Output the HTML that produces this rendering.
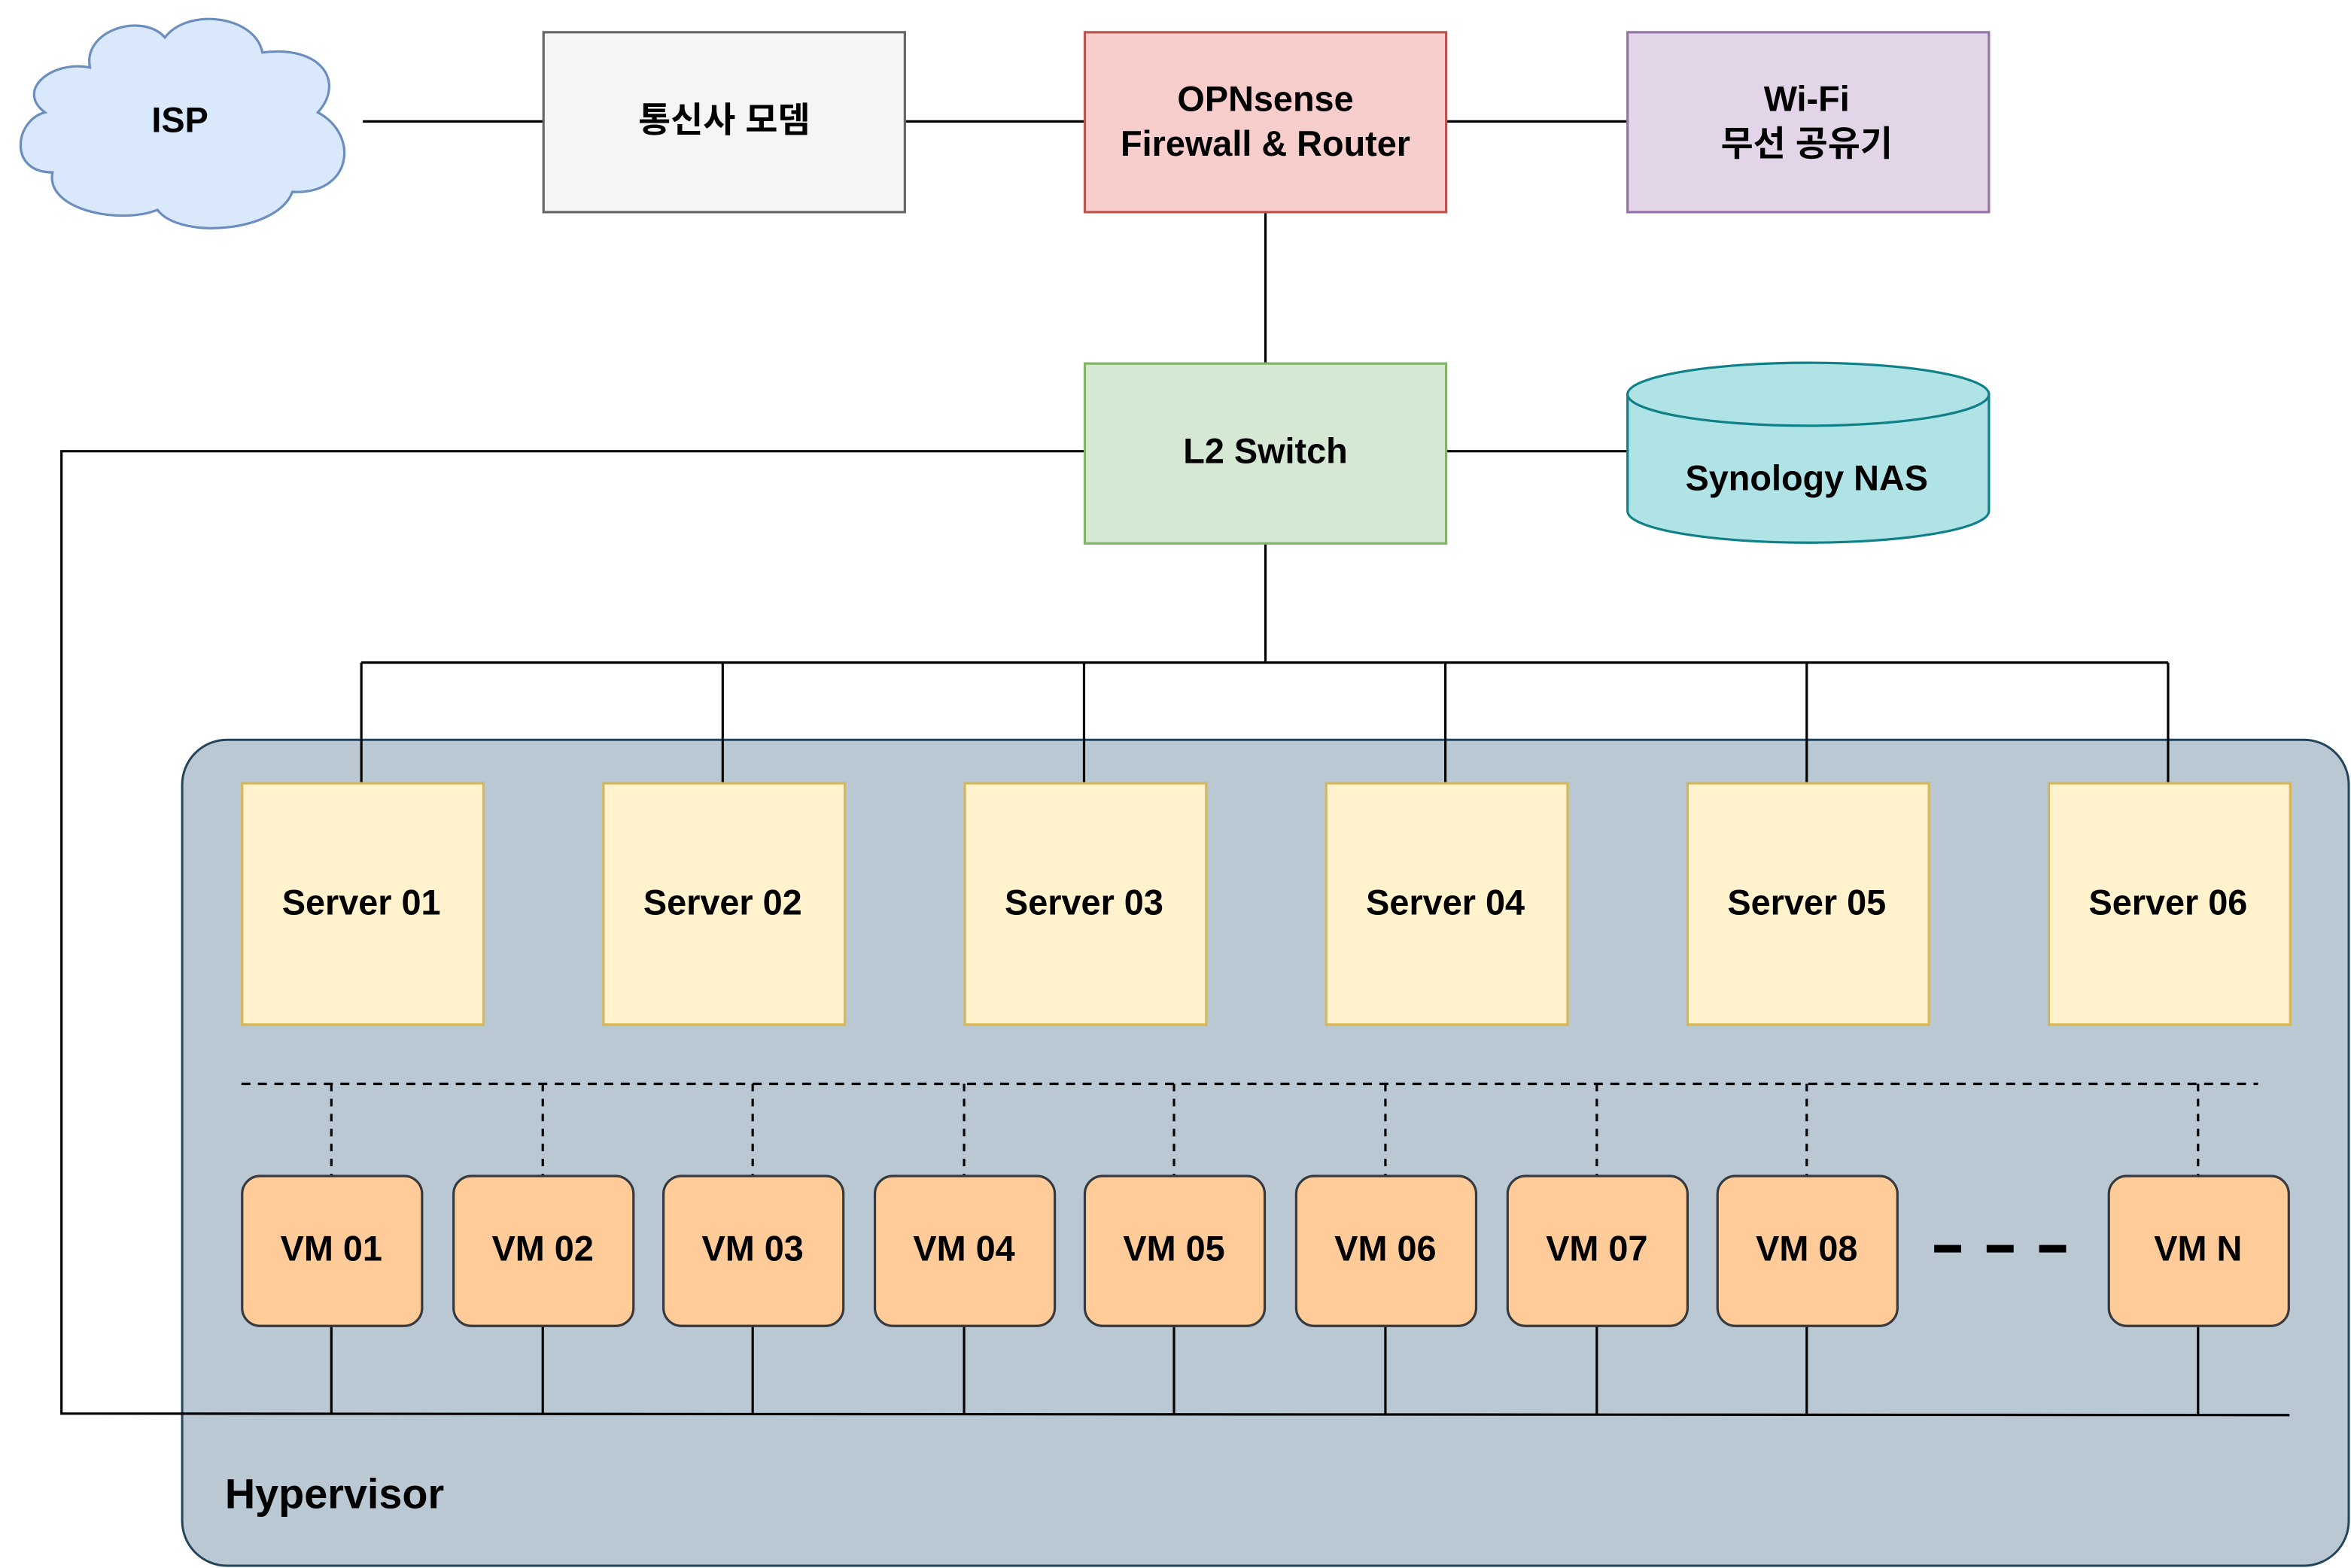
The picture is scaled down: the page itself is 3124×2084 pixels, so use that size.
<!DOCTYPE html>
<html><head><meta charset="utf-8"><style>
html,body{margin:0;padding:0;background:#fff;}
svg{display:block;}
text{font-family:"Liberation Sans","Noto Sans CJK KR",sans-serif;font-weight:bold;fill:#000;}
</style></head><body>
<svg width="3124" height="2084" viewBox="0 0 1568 1046" preserveAspectRatio="none" xmlns="http://www.w3.org/2000/svg">
<rect width="1568" height="1046" fill="#fff"/>
<rect x="121.5" y="493.5" width="1445" height="551" rx="30" fill="#bac8d3" stroke="#23445d" stroke-width="1.5"/>
<text x="150" y="1006" font-size="28">Hypervisor</text>
<g stroke="#000" stroke-width="1.6" fill="none">
<line x1="242" y1="81" x2="362" y2="81"/>
<line x1="603" y1="81" x2="723" y2="81"/>
<line x1="964" y1="81" x2="1085" y2="81"/>
<line x1="844" y1="141" x2="844" y2="242"/>
<line x1="964" y1="301" x2="1085" y2="301"/>
<polyline points="723,301 41,301 41,943 1527,944"/>
<line x1="844" y1="362" x2="844" y2="442"/>
<line x1="241" y1="442" x2="1446" y2="442"/>
<line x1="241" y1="442" x2="241" y2="522"/>
<line x1="482" y1="442" x2="482" y2="522"/>
<line x1="723" y1="442" x2="723" y2="522"/>
<line x1="964" y1="442" x2="964" y2="522"/>
<line x1="1205" y1="442" x2="1205" y2="522"/>
<line x1="1446" y1="442" x2="1446" y2="522"/>
<line x1="161" y1="723" x2="1506" y2="723" stroke-dasharray="6,5"/>
<g stroke-dasharray="5,5">
<line x1="221" y1="723" x2="221" y2="784"/><line x1="362" y1="723" x2="362" y2="784"/>
<line x1="502" y1="723" x2="502" y2="784"/><line x1="643" y1="723" x2="643" y2="784"/>
<line x1="783" y1="723" x2="783" y2="784"/><line x1="924" y1="723" x2="924" y2="784"/>
<line x1="1065" y1="723" x2="1065" y2="784"/><line x1="1205" y1="723" x2="1205" y2="784"/>
<line x1="1466" y1="723" x2="1466" y2="784"/>
</g>
<line x1="221" y1="884" x2="221" y2="943"/><line x1="362" y1="884" x2="362" y2="943"/>
<line x1="502" y1="884" x2="502" y2="943"/><line x1="643" y1="884" x2="643" y2="943"/>
<line x1="783" y1="884" x2="783" y2="943"/><line x1="924" y1="884" x2="924" y2="943"/>
<line x1="1065" y1="884" x2="1065" y2="943"/><line x1="1205" y1="884" x2="1205" y2="943"/>
<line x1="1466" y1="884" x2="1466" y2="944"/>
<line x1="1290" y1="833" x2="1382" y2="833" stroke-width="5" stroke-dasharray="18,17"/>
</g>
<path d="M60,45 C55,20 95,8 110,25 C125,5 170,10 175,35 C215,30 230,55 212,75 C240,90 235,130 195,128 C185,155 120,160 105,140 C80,150 30,140 35,115 C5,115 10,80 30,75 C10,60 35,40 60,45 Z" fill="#dae8fc" stroke="#6c8ebf" stroke-width="1.6"/>
<text x="120" y="88" font-size="23.5" text-anchor="middle">ISP</text>
<rect x="362.5" y="21.5" width="241" height="120" fill="#f5f5f5" stroke="#666" stroke-width="1.6"/>
<text x="483" y="88" font-size="23.5" text-anchor="middle" fill="#333">통신사 모뎀</text>
<rect x="723.5" y="21.5" width="241" height="120" fill="#f8cecc" stroke="#b85450" stroke-width="1.6"/>
<text x="844" y="74" font-size="23.5" text-anchor="middle">OPNsense</text>
<text x="844" y="104" font-size="23.5" text-anchor="middle">Firewall &amp; Router</text>
<rect x="1085.5" y="21.5" width="241" height="120" fill="#e1d5e7" stroke="#9673a6" stroke-width="1.6"/>
<text x="1205" y="74" font-size="23.5" text-anchor="middle">Wi-Fi</text>
<text x="1205" y="104" font-size="23.5" text-anchor="middle">무선 공유기</text>
<rect x="723.5" y="242.5" width="241" height="120" fill="#d5e8d4" stroke="#82b366" stroke-width="1.6"/>
<text x="844" y="309" font-size="23.5" text-anchor="middle">L2 Switch</text>
<path d="M1085.5,263 L1085.5,341 A120.5,21 0 0 0 1326.5,341 L1326.5,263 Z" fill="#b0e3e6" stroke="#0e8088" stroke-width="1.6"/>
<ellipse cx="1206" cy="263" rx="120.5" ry="21" fill="#b0e3e6" stroke="#0e8088" stroke-width="1.6"/>
<text x="1205" y="327" font-size="23.5" text-anchor="middle">Synology NAS</text>
<g fill="#fff2cc" stroke="#d6b656" stroke-width="1.6">
<rect x="161.5" y="522.5" width="161" height="161"/><rect x="402.5" y="522.5" width="161" height="161"/>
<rect x="643.5" y="522.5" width="161" height="161"/><rect x="884.5" y="522.5" width="161" height="161"/>
<rect x="1125.5" y="522.5" width="161" height="161"/><rect x="1366.5" y="522.5" width="161" height="161"/>
</g>
<g font-size="23.5" text-anchor="middle">
<text x="241" y="610">Server 01</text><text x="482" y="610">Server 02</text>
<text x="723" y="610">Server 03</text><text x="964" y="610">Server 04</text>
<text x="1205" y="610">Server 05</text><text x="1446" y="610">Server 06</text>
</g>
<g fill="#ffcc99" stroke="#36393d" stroke-width="1.6">
<rect x="161.5" y="784.5" width="120" height="100" rx="12"/><rect x="302.5" y="784.5" width="120" height="100" rx="12"/>
<rect x="442.5" y="784.5" width="120" height="100" rx="12"/><rect x="583.5" y="784.5" width="120" height="100" rx="12"/>
<rect x="723.5" y="784.5" width="120" height="100" rx="12"/><rect x="864.5" y="784.5" width="120" height="100" rx="12"/>
<rect x="1005.5" y="784.5" width="120" height="100" rx="12"/><rect x="1145.5" y="784.5" width="120" height="100" rx="12"/>
<rect x="1406.5" y="784.5" width="120" height="100" rx="12"/>
</g>
<g font-size="23.5" text-anchor="middle">
<text x="221" y="841">VM 01</text><text x="362" y="841">VM 02</text>
<text x="502" y="841">VM 03</text><text x="643" y="841">VM 04</text>
<text x="783" y="841">VM 05</text><text x="924" y="841">VM 06</text>
<text x="1065" y="841">VM 07</text><text x="1205" y="841">VM 08</text>
<text x="1466" y="841">VM N</text>
</g>
</svg>
</body></html>
